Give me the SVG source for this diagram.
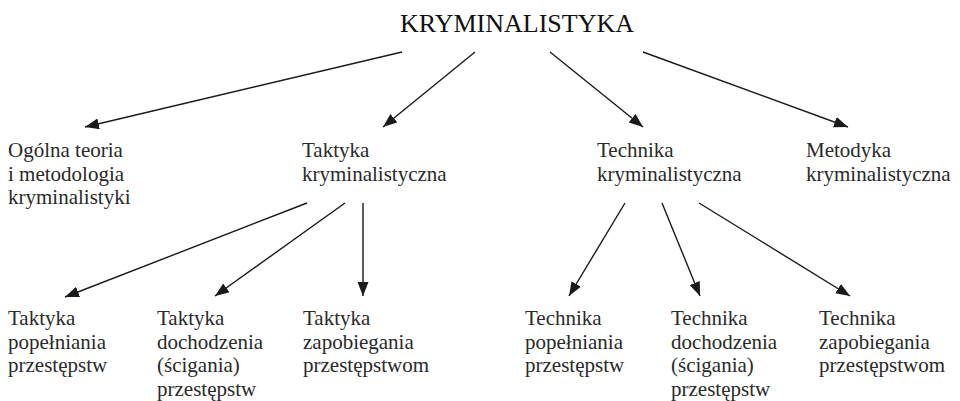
<svg xmlns="http://www.w3.org/2000/svg" width="960" height="401" viewBox="0 0 960 401">
<defs>
<marker id="ah" markerUnits="userSpaceOnUse" markerWidth="16" markerHeight="12" refX="14" refY="5.5" orient="auto">
<path d="M0,0 L14,5.5 L0,11 z" fill="#1a1a1a"/>
</marker>
<style>
.lbl{font-family:'Liberation Serif','Times New Roman',serif;font-size:21px;fill:#2a2a2a}
.title{font-family:'Liberation Serif','Times New Roman',serif;font-size:26px;fill:#111}
.conn line{stroke:#1a1a1a;stroke-width:1.4;marker-end:url(#ah)}
</style>
</defs>
<rect width="960" height="401" fill="#fff"/>
<g id="n-root"><text class="title" x="400" y="32" textLength="234" lengthAdjust="spacingAndGlyphs">KRYMINALISTYKA</text></g>
<g id="n-ogolna" class="lbl" font-family="Liberation Serif"><text x="8" y="157">Ogólna teoria</text><text x="8" y="181">i metodologia</text><text x="8" y="204">kryminalistyki</text></g>
<g id="n-taktyka" class="lbl" font-family="Liberation Serif"><text x="302" y="157">Taktyka</text><text x="302" y="181">kryminalistyczna</text></g>
<g id="n-technika" class="lbl" font-family="Liberation Serif"><text x="597" y="157">Technika</text><text x="597" y="181">kryminalistyczna</text></g>
<g id="n-metodyka" class="lbl" font-family="Liberation Serif"><text x="806" y="157">Metodyka</text><text x="806" y="181">kryminalistyczna</text></g>
<g id="n-tak-pop" class="lbl" font-family="Liberation Serif"><text x="8" y="325">Taktyka</text><text x="8" y="349">popełniania</text><text x="8" y="372">przestępstw</text></g>
<g id="n-tak-doch" class="lbl" font-family="Liberation Serif"><text x="157" y="325">Taktyka</text><text x="157" y="349">dochodzenia</text><text x="157" y="372">(ścigania)</text><text x="157" y="396">przestępstw</text></g>
<g id="n-tak-zap" class="lbl" font-family="Liberation Serif"><text x="303" y="325">Taktyka</text><text x="303" y="349">zapobiegania</text><text x="303" y="372">przestępstwom</text></g>
<g id="n-tech-pop" class="lbl" font-family="Liberation Serif"><text x="525" y="325">Technika</text><text x="525" y="349">popełniania</text><text x="525" y="372">przestępstw</text></g>
<g id="n-tech-doch" class="lbl" font-family="Liberation Serif"><text x="671" y="325">Technika</text><text x="671" y="349">dochodzenia</text><text x="671" y="372">(ścigania)</text><text x="671" y="396">przestępstw</text></g>
<g id="n-tech-zap" class="lbl" font-family="Liberation Serif"><text x="819" y="325">Technika</text><text x="819" y="349">zapobiegania</text><text x="819" y="372">przestępstwom</text></g>
<g class="conn" id="connectors">
<line x1="402" y1="52" x2="85" y2="127"/>
<line x1="475" y1="52" x2="383" y2="127"/>
<line x1="550" y1="52" x2="643" y2="127"/>
<line x1="643" y1="52" x2="848" y2="127"/>
<line x1="307" y1="203" x2="65" y2="297"/>
<line x1="345" y1="203" x2="215" y2="296"/>
<line x1="363" y1="203" x2="363" y2="296"/>
<line x1="625" y1="203" x2="569" y2="296"/>
<line x1="662" y1="203" x2="700" y2="296"/>
<line x1="699" y1="203" x2="850" y2="296"/>
</g>
</svg>
